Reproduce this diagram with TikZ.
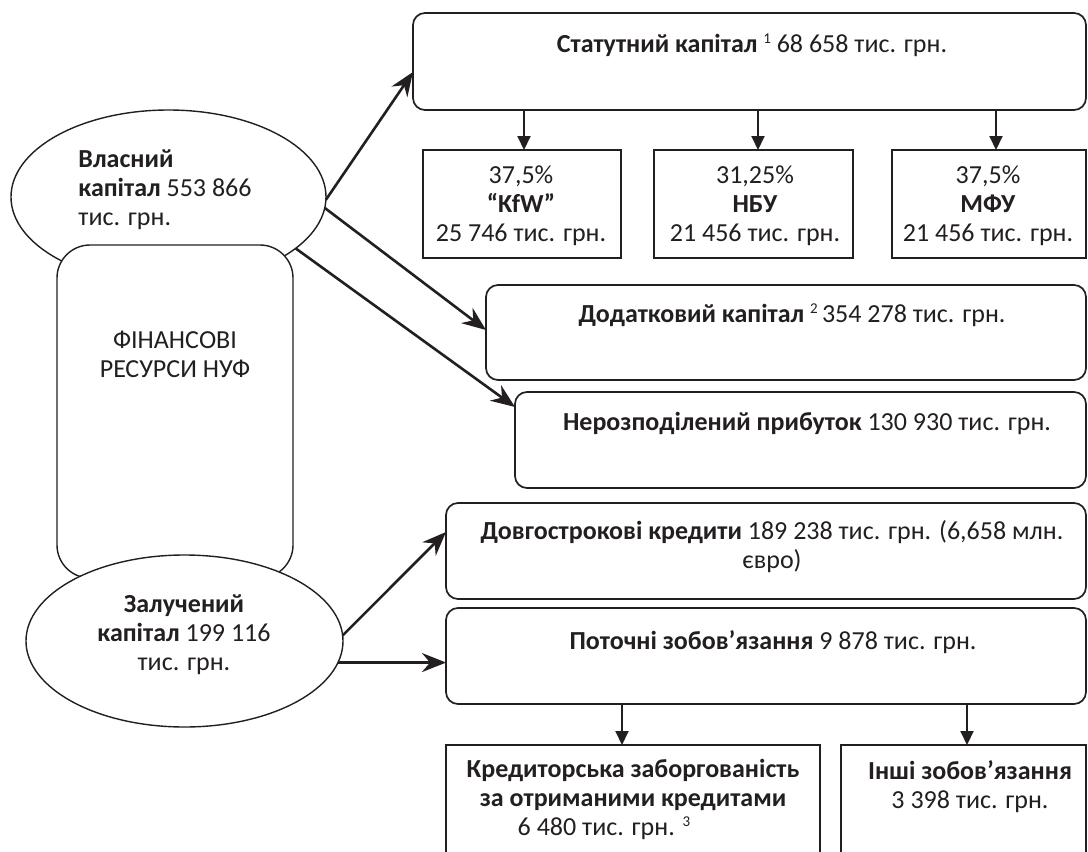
\documentclass[tikz,border=0pt]{standalone}
\usepackage{fontspec}
\setmainfont{Carlito}
\usetikzlibrary{shapes.geometric,arrows.meta}
\definecolor{ink}{HTML}{231F20}
\newcommand{\supn}[1]{\raisebox{9pt}{\fontsize{15}{15}\selectfont #1}}
\begin{document}
\begin{tikzpicture}[x=1pt,y=-1pt,
  every node/.style={text=ink, font=\fontsize{26}{29}\selectfont, inner sep=0pt, outer sep=0pt},
  rbox/.style={draw=ink, line width=1.7pt, rounded corners=12pt, fill=white},
  sbox/.style={draw=ink, line width=1.7pt, fill=white},
  finbox/.style={draw=ink, line width=1.4pt, rounded corners=33pt, fill=white},
  ell/.style={ellipse, draw=ink, line width=1.4pt, fill=white},
  bigarr/.style={draw=ink, line width=2.6pt, -{Stealth[length=24pt,width=19pt,inset=8pt]}},
  downarr/.style={draw=ink, line width=2pt, -{Triangle[length=14pt,width=13pt]}},
  txt/.style={align=center},
]
\clip (0,0) rectangle (1088,852);
\fill[white] (0,0) rectangle (1088,852);

% left side
\node[ell, minimum width=315, minimum height=174] (vl) at (168.5,197) {};
\node[align=left] (vlt) at (165,190) {\textbf{Власний}\\\textbf{капітал} 553 866\\тис. грн.};
\node[finbox, minimum width=236, minimum height=333] (fin) at (175,411.5) {};
\node[txt] (fint) at (175,354) {ФІНАНСОВІ\\РЕСУРСИ НУФ};
\node[ell, minimum width=317, minimum height=172] (zk) at (184.5,641) {};
\node[txt] (zkt) at (184,635) {\textbf{Залучений}\\\textbf{капітал} 199 116\\тис. грн.};

% top block
\node[rbox, minimum width=673, minimum height=97] (st) at (749.5,61.5) {};
\node (stt) at (752,45) {\textbf{Статутний капітал} \supn{1} 68 658 тис. грн.};
\node[sbox, minimum width=198, minimum height=108] (kfw) at (522,204) {};
\node[txt] (kfwt) at (521,206) {37,5\%\\\textbf{“KfW”}\\25 746 тис. грн.};
\node[sbox, minimum width=199, minimum height=108] (nbu) at (753.5,204) {};
\node[txt] (nbut) at (755,206) {31,25\%\\\textbf{НБУ}\\21 456 тис. грн.};
\node[sbox, minimum width=194, minimum height=108] (mfu) at (989,204) {};
\node[txt] (mfut) at (988,206) {37,5\%\\\textbf{МФУ}\\21 456 тис. грн.};

% middle boxes
\node[rbox, minimum width=600, minimum height=95] (dod) at (786,332.5) {};
\node (dodt) at (792,315) {\textbf{Додатковий капітал} \supn{2}\,354 278 тис. грн.};
\node[rbox, minimum width=571, minimum height=96] (ner) at (800.5,440) {};
\node (nert) at (807,423) {\textbf{Нерозподілений прибуток} 130 930 тис. грн.};

% lower boxes
\node[rbox, minimum width=640, minimum height=96] (dov) at (766,551) {};
\node[txt] (dovt) at (772,547) {\textbf{Довгострокові кредити} 189 238 тис. грн. (6,658 млн.\\євро)};
\node[rbox, minimum width=640, minimum height=96] (pot) at (766,656) {};
\node (pott) at (773,642) {\textbf{Поточні зобов’язання} 9 878 тис. грн.};
\node[sbox, minimum width=374, minimum height=140] (kred) at (633,815) {};
\node[txt] (kredt) at (633,785) {\textbf{Кредиторська заборгованість}\\\textbf{за отриманими кредитами}};
\node (kredv) at (604,828) {6 480 тис. грн. \supn{3}};
\node[sbox, minimum width=245, minimum height=140] (insh) at (963.5,815) {};
\node[txt] (insht) at (970,787) {\textbf{Інші зобов’язання}\\3 398 тис. грн.};

% connectors
\draw[bigarr] (vl.-1) -- ([yshift=-10.5pt]st.west);
\draw[bigarr] (vl.-4) -- ([yshift=2.5pt]dod.west);
\draw[bigarr] (vl.-22) -- ([yshift=33pt]ner.west);
\draw[bigarr] (zk.2) -- ([yshift=19pt]dov.west);
\draw[bigarr] (zk.-8) -- (zk.-8 -| pot.west);

\draw[downarr] ([xshift=2pt]kfw.north |- st.south) -- ([xshift=2pt]kfw.north);
\draw[downarr] ([xshift=4.5pt]nbu.north |- st.south) -- ([xshift=4.5pt]nbu.north);
\draw[downarr] ([xshift=7pt]mfu.north |- st.south) -- ([xshift=7pt]mfu.north);
\draw[downarr] ([xshift=-11pt]kred.north |- pot.south) -- ([xshift=-11pt]kred.north);
\draw[downarr] ([xshift=3.5pt]insh.north |- pot.south) -- ([xshift=3.5pt]insh.north);
\end{tikzpicture}
\end{document}
